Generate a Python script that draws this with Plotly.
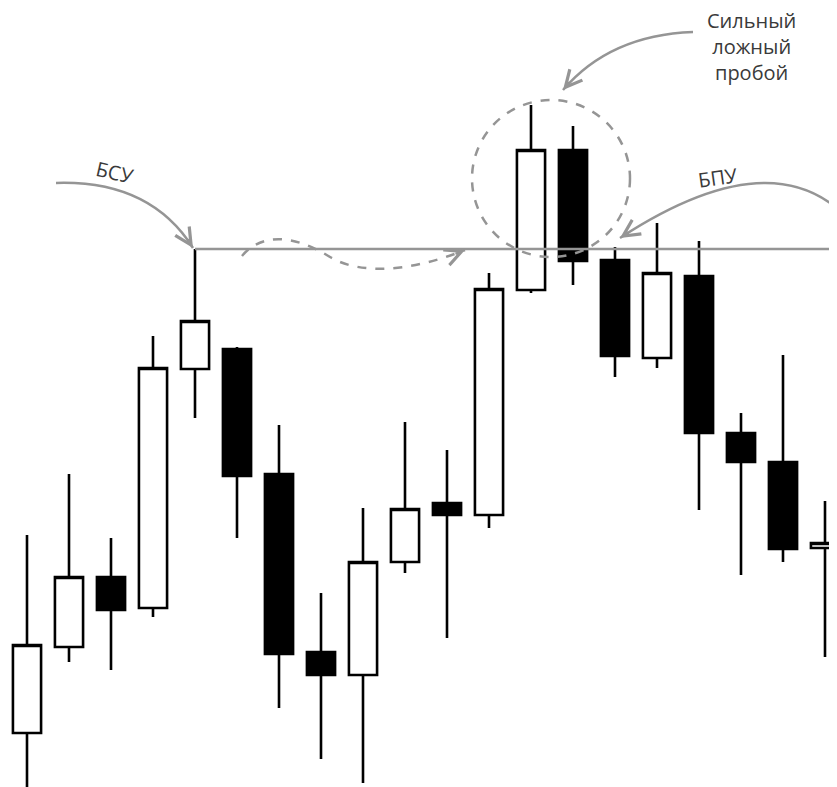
import plotly.graph_objects as go

# candle data (price units, higher = up)
bars = list(range(20))
opens = [54, 140, 210, 179, 418, 438, 313, 135, 112, 225, 284, 272, 497, 637, 527, 429, 511, 354, 325, 239]
highs = [252, 313, 249, 451, 538, 440, 362, 194, 279, 365, 337, 514, 682, 661, 540, 564, 546, 374, 432, 286]
lows = [-3, 125, 117, 170, 369, 249, 79, 28, 4, 214, 149, 259, 494, 502, 410, 419, 277, 212, 225, 130]
closes = [142, 210, 177, 419, 466, 311, 133, 112, 225, 278, 272, 498, 637, 526, 431, 514, 354, 325, 238, 244]

level_price = 538   # resistance level
level_start = 4     # bar where the level begins

W, H = 837, 787
PAD = 8             # page body margin around the plot div
GRAY = '#959595'

def px(x):
    # page pixel -> data x
    return (x - 27) / 42

def py(y):
    # page pixel -> data y
    return H - y

fig = go.Figure()

fig.add_trace(go.Candlestick(
    x=bars, open=opens, high=highs, low=lows, close=closes,
    increasing=dict(line=dict(color='black', width=2.6), fillcolor='white'),
    decreasing=dict(line=dict(color='black', width=2.6), fillcolor='black'),
    whiskerwidth=0, showlegend=False, hoverinfo='skip'))

fig.add_trace(go.Scatter(x=[level_start, bars[-1] + 1], y=[level_price, level_price],
                         mode='lines', line=dict(color=GRAY, width=2.5),
                         showlegend=False, hoverinfo='skip'))

def qpath(p0, c, p1):
    return f"M {px(p0[0])},{py(p0[1])} Q {px(c[0])},{py(c[1])} {px(p1[0])},{py(p1[1])}"

shapes = [
    # БСУ arrow
    dict(type='path', path=qpath((56, 183), (150, 180), (193, 248)),
         line=dict(color=GRAY, width=2.5)),
    # Сильный ложный пробой arrow
    dict(type='path', path=qpath((693, 32), (610, 35), (563, 90)),
         line=dict(color=GRAY, width=2.5)),
    # БПУ arrow
    dict(type='path', path=qpath((830, 203), (755, 150), (620, 238)),
         line=dict(color=GRAY, width=2.5)),
    # dashed wave
    dict(type='path',
         path=(f"M {px(242)},{py(256)} C {px(262)},{py(232)} {px(295)},{py(235)} {px(330)},{py(257)} "
               f"C {px(360)},{py(275)} {px(410)},{py(272)} {px(465)},{py(250)}"),
         line=dict(color=GRAY, width=2.5, dash='dash')),
    # dashed circle
    dict(type='circle', x0=px(472), x1=px(630), y0=py(100), y1=py(257),
         line=dict(color=GRAY, width=2.5, dash='dash')),
]

annotations = []
# arrow heads: tip, tail offset in pixels
for tip, off in [((193, 248), (-6.4, -10.1)), ((465, 250), (-11, 4.4)),
                 ((563, 90), (7.8, -9.1)), ((620, 238), (10, -6.6))]:
    annotations.append(dict(x=px(tip[0]), y=py(tip[1]), ax=off[0], ay=off[1],
                            text='', showarrow=True, arrowhead=5, arrowsize=1.3,
                            arrowwidth=2.5, arrowcolor=GRAY))

font = dict(family='Open Sans, sans-serif', size=20, color='#3a3a3a')
annotations.append(dict(x=px(115), y=py(172), text='БСУ', showarrow=False,
                        textangle=13, font=font))
annotations.append(dict(x=px(718), y=py(177), text='БПУ', showarrow=False,
                        textangle=-8, font=font))
annotations.append(dict(x=px(751), y=py(46), text='Сильный<br>ложный<br>пробой',
                        showarrow=False, align='center', font=font))

fig.update_layout(
    width=W - PAD, height=H - PAD,
    margin=dict(l=0, r=0, t=0, b=0),
    paper_bgcolor='white', plot_bgcolor='white',
    boxgap=0.33, boxgroupgap=0,
    xaxis=dict(range=[px(PAD), px(W)], visible=False, rangeslider=dict(visible=False)),
    yaxis=dict(range=[py(H), py(PAD)], visible=False),
    shapes=shapes, annotations=annotations,
)

fig.write_html("out.html")
